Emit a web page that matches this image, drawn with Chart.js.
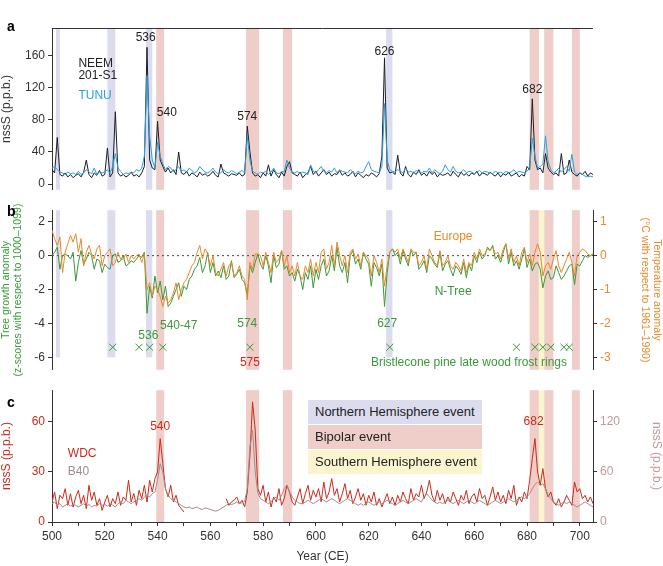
<!DOCTYPE html>
<html><head><meta charset="utf-8">
<script src="https://cdn.jsdelivr.net/npm/chart.js@4"></script>
<style>
body{margin:0;background:#fff;font-family:"Liberation Sans",Arial,sans-serif}
#wrap{position:relative;width:663px;height:566px}
canvas{position:absolute;left:0}
.lg{position:absolute;left:308px;width:174px;height:24px;font-size:13px;line-height:24px;padding-left:7px;box-sizing:border-box;color:#222}
.pl{position:absolute;left:7px;font-weight:bold;font-size:14px}
</style></head><body>
<div id="wrap">
<canvas id="ca" width="663" height="200" style="top:0"></canvas>
<canvas id="cb" width="663" height="180" style="top:200px"></canvas>
<canvas id="cc" width="663" height="186" style="top:380px"></canvas>
<div class="lg" style="top:400px;background:#dcdcef">Northern Hemisphere event</div>
<div class="lg" style="top:425px;background:#efcdc8">Bipolar event</div>
<div class="lg" style="top:450px;background:#faf5cf">Southern Hemisphere event</div>
<div class="pl" style="top:18px">a</div>
<div class="pl" style="top:203px">b</div>
<div class="pl" style="top:394px">c</div>
</div>
<script>
const startYear = 500;
const neem = [18,14,58,12,10,14,9,12,8,11, 13,9,15,30,12,8,14,11,17,10, 12,45,9,14,90,14,10,12,9,11, 15,10,12,9,14,22,170,30,20,18,
  78,30,22,15,20,14,18,12,40,14, 12,16,10,14,12,9,15,11,13,10, 12,16,11,9,25,14,12,10,13,12, 11,14,10,12,72,40,14,10,12,8,
  14,10,24,10,18,12,8,15,10,22, 28,14,12,10,15,8,12,14,22,12, 16,10,14,18,12,15,10,13,12,17, 11,14,10,12,16,9,14,11,8,12,
  10,14,12,9,13,35,157,20,14,15, 12,36,14,10,22,12,9,15,12,18, 11,14,10,16,12,15,9,13,11,12, 14,10,16,12,9,15,11,13,10,14,
  12,16,10,14,13,11,15,12,10,14, 9,13,11,15,10,12,14,9,12,10, 22,18,106,30,18,20,14,38,20,15, 12,14,10,38,12,14,30,15,12,10, 14,12,16,10,14,12];
const tunu = [20,22,18,15,14,12,15,13,14,12, 16,12,14,18,15,13,20,12,15,14, 15,18,14,22,38,20,16,12,14,13, 15,14,18,16,20,35,135,60,30,20,
  52,35,25,18,22,20,16,18,22,16, 18,15,20,17,14,16,22,18,15,14, 16,20,15,13,14,18,15,14,17,15, 13,15,17,14,60,30,16,14,12,15,
  14,16,12,15,20,14,13,16,15,30, 20,15,14,16,13,15,14,12,24,16, 14,18,22,16,14,17,15,20,14,18, 16,15,14,18,15,13,16,14,15,22,
  28,18,16,15,14,22,100,30,18,16, 15,18,16,14,20,15,16,14,17,15, 14,16,15,20,14,18,15,13,16,24, 18,15,22,16,14,15,18,14,16,15,
  13,15,17,14,16,15,14,13,16,14, 15,13,16,14,15,18,14,16,15,14, 16,20,57,35,20,22,25,60,28,18, 14,16,20,15,18,22,16,37,15,12, 14,12,10,9,10,9];
const nTree = [0,0.2,0.5,-0.8,0,0.1,0,-0.2,0.2,-1.5, -0.4,0.3,-0.5,-0.2,0.2,0,-0.8,-0.2,-0.3,-1.0, -0.5,-0.7,-0.8,0,0.1,-0.4,-0.3,0,-0.6,-0.5,
  -0.3,-0.4,-0.2,0,-0.1,0.2,-3.4,-1.8,-2.5,-1.2, -2.2,-1.5,-2.6,-1.8,-3.0,-2.8,-2.4,-2.0,-1.6,-2.4, -1.8,-2.0,-1.4,-1.2,-0.8,-0.6,-0.1,-1.0,-0.6,0.2,
  -1.0,-0.4,-1.2,-0.9,-1.3,-0.6,-1.4,-1.2,-0.3,-1.3, -1.1,-0.8,-1.4,-1.6,-2.3,-0.6,-1.0,-0.4,0.1,-0.5, -0.8,0,-0.6,-1.6,0,-0.7,-0.5,0.3,-0.8,-0.6,
  -1.2,-1.0,-1.5,-0.8,-1.2,-2.0,-1.0,-1.4,-0.6,-1.9, -0.8,-1.4,-0.6,-0.2,-1.2,-0.9,0,-0.9,0.5,-0.6, -1.0,-0.4,-1.6,0,0.3,-0.5,-0.2,-0.8,0.2,-0.2,
  -0.5,-1.8,-0.4,-0.7,-1.2,-0.5,-3.0,-1.0,0.2,0.4, 0,0.2,-0.5,0.3,-0.2,-0.6,0.3,0,0.2,-0.8, -0.6,-0.3,-1.0,0,-0.2,-0.5,-0.7,0.2,-0.9,-0.5,
  -0.3,-0.8,-1.2,-0.6,-0.8,-1.1,-0.4,-1.3,-0.5,-0.9, 0,-0.4,0.2,-0.2,0,0.5,0.3,0.6,-0.2,0, -0.4,0.2,0.7,-0.5,0.2,-0.6,-0.3,-0.8,-0.2,0.4,
  -0.7,-0.2,-0.9,-0.5,-0.4,-0.8,-1.9,-1.2,-0.9,-1.4, -1.3,-0.6,-1.0,-1.4,-1.2,-0.9,-0.6,-0.5,-1.7,-0.5, -0.6,-0.3,0,-0.1,0,0.1];
const europe = [0.75,0.5,0.3,0.55,-0.5,0.1,0.35,0.6,0.4,0.65, 0.1,0.5,-0.3,0.1,0.3,0.05,-0.1,0.2,0.3,-0.3, 0,0.1,0.2,-0.3,-0.2,0.1,-0.1,-0.1,0.05,-0.2,
  0,-0.1,0,0.05,-0.2,0.05,-1.0,-0.8,-1.2,-0.9, -1.0,-1.2,-1.5,-1.2,-1.4,-1.3,-1.1,-0.8,-1.3,-1.0, -0.8,-0.7,-0.5,-0.3,-0.2,0.1,0.3,-0.1,0.2,0.05,
  -0.3,0,-0.5,-0.6,-0.4,-0.2,-0.6,-0.3,-0.2,-0.6, -0.5,-0.3,-0.6,-0.7,-1.3,-0.2,-0.4,0.05,0.05,0, -0.3,0.1,-0.2,-0.5,0.1,-0.2,-0.1,0.15,-0.3,0,
  -0.5,-0.3,-0.6,-0.2,-0.6,-0.7,-0.3,-0.5,-0.1,-0.6, -0.2,-0.5,0.1,0.2,-0.4,-0.2,0.3,-0.3,0.4,0, -0.3,0,-0.5,0.1,0.2,-0.1,0.05,-0.3,0.1,0,
  -0.1,-0.6,0,-0.2,-0.5,-0.1,-0.9,-0.3,0.1,0.2, 0.1,0.2,-0.1,0.2,0,-0.2,0.2,0.1,0.1,-0.3, -0.2,0,-0.4,0.2,0,-0.2,-0.3,0.15,-0.3,-0.2,
  0,-0.3,-0.4,-0.2,-0.3,-0.45,-0.1,-0.5,-0.2,-0.3, 0.1,-0.1,0.2,0,0.05,0.2,0.15,0.25,0.05,0.1, -0.1,0.2,0.35,-0.1,0.2,-0.2,0,-0.3,0.1,0.25,
  -0.2,0.05,-0.3,0.1,0.35,0.1,-0.6,-0.3,-0.2,-0.4, -0.1,0.15,-0.3,-0.5,-0.3,-0.1,0.1,-0.2,-0.6,0, 0.1,0.2,0.15,0.05,0,0.05];
const wdc = [12,18,8,16,14,20,10,17,9,15, 19,11,16,8,22,13,18,10,14,7, 12,16,9,14,11,18,10,15,13,25, 12,17,10,19,14,22,12,25,18,26,
  30,50,35,20,15,22,12,16,10,8, 6,null,null,null,null,null,null,null,null,null, null,null,null,null,null,null,14,10,12,13,
  15,11,13,9,18,40,72,55,20,16, 22,12,18,9,15,12,20,10,14,22, 18,12,10,15,20,11,17,22,13,19, 15,20,12,24,14,18,26,16,20,12,
  17,23,14,19,11,15,20,13,17,10, 16,12,18,10,14,9,13,17,11,15, 10,16,12,18,14,11,20,13,17,15, 22,14,18,25,16,12,19,13,17,11,
  15,12,18,14,10,16,13,19,11,15, 17,12,20,14,16,10,15,21,13,18, 12,16,11,19,14,22,10,15,12,18, 14,25,38,50,30,22,32,20,15,18,
  12,10,14,9,12,16,13,10,24,18, 20,14,16,12,15,11];
const b40 = [22,24,20,22,18,20,22,19,21,20, 18,20,22,19,21,18,20,19,22,20, 21,19,22,20,18,22,24,22,26,24, 22,24,26,28,26,30,32,30,34,36,
  50,70,60,40,32,28,26,24,22,20, 18,17,18,16,17,18,16,15,17,16, 15,14,13,14,16,18,20,22,21,22, 24,22,23,25,40,90,110,60,35,28,
  26,24,22,24,28,30,26,32,40,44, 36,30,26,24,22,22,24,26,24,22, 24,26,28,26,24,26,28,26,24,22, 24,26,28,26,24,22,20,22,20,22,
  24,22,20,22,24,22,24,26,24,22, 20,22,24,26,24,22,24,26,28,26, 24,30,34,30,26,24,22,24,22,24, 26,24,22,24,26,24,22,24,26,24,
  22,24,26,24,22,20,22,24,26,24, 22,24,26,28,26,24,26,28,30,28, 30,34,40,45,48,44,46,40,32,28, 24,22,20,22,24,22,24,22,20,18, 20,22,24,22,20,18];
const yearTicks = [500,510,520,530,540,550,560,570,580,590,600,610,620,630,640,650,660,670,680,690,700];
const frostYears = [523,533,537,542,575,628,676,683,686,689,694,696];
const nhBands = [[501.5,503],[521,524],[535.6,538],[626.6,629]];
const bipolarBands = [[539.5,542.5],[573.5,578.5],[587.5,591],[681,684.5],[686.5,690],[697,700]];
const shBands = [[684.5,686.5]];

const pts = arr => arr.map((v, i) => ({x: startYear + i, y: v}));
Chart.defaults.font = {family: '"Liberation Sans", Arial, sans-serif', size: 12};
Chart.defaults.animation = false;

const bandPlugin = {
  id: 'bands',
  beforeDatasetsDraw(chart, args, opts) {
    const {ctx, chartArea: a, scales: {x}} = chart;
    ctx.save();
    (opts.sets || []).forEach(s => {
      ctx.fillStyle = s.color;
      const bottom = s.bottom != null ? chart.scales.y.getPixelForValue(s.bottom) : a.bottom;
      s.bands.forEach(([x0, x1]) => {
        const p0 = x.getPixelForValue(x0), p1 = x.getPixelForValue(x1);
        ctx.fillRect(p0, a.top, p1 - p0, bottom - a.top);
      });
    });
    if (opts.zeroLine) {
      const y0 = chart.scales.y.getPixelForValue(0);
      ctx.strokeStyle = '#444'; ctx.setLineDash([2, 3]); ctx.lineWidth = 1;
      ctx.beginPath(); ctx.moveTo(a.left, y0); ctx.lineTo(a.right, y0); ctx.stroke();
    }
    ctx.restore();
  },
  afterDraw(chart, args, opts) {
    const {ctx, chartArea: a, scales} = chart;
    ctx.save();
    if (opts.topBorder) {
      ctx.strokeStyle = '#333'; ctx.lineWidth = 1;
      ctx.beginPath(); ctx.moveTo(a.left, a.top + 0.5); ctx.lineTo(a.right, a.top + 0.5); ctx.stroke();
    }
    ctx.font = '12px "Liberation Sans", Arial, sans-serif';
    ctx.textBaseline = 'middle';
    (opts.labels || []).forEach(l => {
      ctx.fillStyle = l.color; ctx.textAlign = l.align || 'center';
      ctx.fillText(l.text, scales.x.getPixelForValue(l.x), scales[l.axis || 'y'].getPixelForValue(l.y));
    });
    ctx.restore();
  }
};

const xScale = show => ({
  type: 'linear', min: 500, max: 705, display: show,
  grid: {display: show, drawOnChartArea: false, tickLength: 4, color: '#333'},
  border: {color: '#333'},
  afterBuildTicks: s => { s.ticks = yearTicks.map(v => ({value: v})); },
  ticks: {color: '#333', autoSkip: false, maxRotation: 0,
    callback: v => v % 20 === 0 ? v : ''},
  title: {display: show, text: 'Year (CE)', color: '#333', font: {size: 12}, padding: 2},
  afterFit: s => { if (show) s.height = 44; }
});
const yAxis = (pos, min, max, ticks, color, title, titleColor, titleSize) => ({
  type: 'linear', position: pos, min, max,
  grid: {drawOnChartArea: false, tickLength: 4, color: '#333'},
  border: {color: '#333'},
  ticks: {color, padding: 3},
  afterBuildTicks: s => { s.ticks = ticks.map(v => ({value: v})); },
  title: {display: !!title, text: title, color: titleColor || color, font: {size: titleSize || 12, lineHeight: 1.15}, padding: 0},
  afterFit: s => { s.width = pos === 'left' ? 52 : 70; }
});
const line = (data, color, axis, width) => ({data: pts(data), borderColor: color, borderWidth: width || 1,
  pointRadius: 0, yAxisID: axis || 'y', spanGaps: false, tension: 0});
const baseOpts = {responsive: false, plugins: {legend: {display: false}, tooltip: {enabled: false}}};

new Chart(document.getElementById('ca'), {
  type: 'line',
  data: {datasets: [line(tunu, '#2aa0d8'), line(neem, '#1c1c2c')]},
  options: {...baseOpts, layout: {padding: {top: 28, right: 70}},
    scales: {x: xScale(false), y: yAxis('left', -7, 194, [0, 40, 80, 120, 160], '#333', 'nssS (p.p.b.)')},
    plugins: {...baseOpts.plugins, bands: {topBorder: true,
      sets: [{color: '#dcdcef', bands: nhBands}, {color: '#efcdc8', bands: bipolarBands}],
      labels: [
        {text: '536', x: 535.5, y: 182, color: '#222'}, {text: '540', x: 543.5, y: 89, color: '#222'},
        {text: '574', x: 574, y: 84, color: '#222'}, {text: '626', x: 626, y: 165, color: '#222'},
        {text: '682', x: 682, y: 117, color: '#222'},
        {text: 'NEEM', x: 510, y: 150, color: '#222', align: 'left'}, {text: '201-S1', x: 510, y: 135, color: '#222', align: 'left'},
        {text: 'TUNU', x: 510, y: 110, color: '#2aa0d8', align: 'left'}]}}},
  plugins: [bandPlugin]
});

new Chart(document.getElementById('cb'), {
  type: 'line',
  data: {datasets: [
    line(europe, '#e8892b', 'y2'), line(nTree, '#3a9a3a'),
    {type: 'scatter', data: frostYears.map(y => ({x: y, y: -5.4})), pointStyle: 'cross', rotation: 45,
      pointRadius: 5, borderColor: '#3a9a3a', borderWidth: 1, yAxisID: 'y'}]},
  options: {...baseOpts,
    scales: {x: xScale(false),
      y: yAxis('left', -6.73, 2.68, [-6, -4, -2, 0, 2], '#333', ['Tree growth anomaly', '(z-scores with respect to 1000–1099)'], '#3a9a3a', 10.5),
      y2: yAxis('right', -3.365, 1.34, [-3, -2, -1, 0, 1], '#e8892b', ['Temperature anomaly', '(°C with respect to 1961–1990)'], '#e8892b', 10.5)},
    plugins: {...baseOpts.plugins, bands: {zeroLine: true,
      sets: [{color: '#dcdcef', bands: nhBands, bottom: -6}, {color: '#efcdc8', bands: bipolarBands}, {color: '#faf5cf', bands: shBands}],
      labels: [
        {text: 'Europe', x: 652, y: 0.55, color: '#e8892b', axis: 'y2'}, {text: 'N-Tree', x: 652, y: -2.1, color: '#3a9a3a'},
        {text: '536', x: 536.5, y: -4.7, color: '#3a9a3a'}, {text: '540-47', x: 548, y: -4.1, color: '#3a9a3a'},
        {text: '574', x: 574, y: -4.0, color: '#3a9a3a'}, {text: '627', x: 627, y: -4.0, color: '#3a9a3a'},
        {text: 'Bristlecone pine late wood frost rings', x: 658, y: -6.3, color: '#3a9a3a'},
        {text: '575', x: 575, y: -6.3, color: '#cc2a1a'}]}}},
  plugins: [bandPlugin]
});

new Chart(document.getElementById('cc'), {
  type: 'line',
  data: {datasets: [line(b40, '#a08c8c', 'y2'), line(wdc, '#cc2a1a')]},
  options: {...baseOpts,
    scales: {x: xScale(true),
      y: yAxis('left', 0, 79, [0, 30, 60], '#cc2a1a', 'nssS (p.p.b.)'),
      y2: yAxis('right', 0, 158, [0, 60, 120], '#c09a9a', 'nssS (p.p.b.)')},
    plugins: {...baseOpts.plugins, bands: {
      sets: [{color: '#efcdc8', bands: bipolarBands}, {color: '#faf5cf', bands: shBands}],
      labels: [
        {text: '540', x: 541, y: 57, color: '#cc2a1a'}, {text: '682', x: 682.5, y: 60, color: '#cc2a1a'},
        {text: 'WDC', x: 506, y: 41, color: '#cc2a1a', align: 'left'}, {text: 'B40', x: 506, y: 30, color: '#a08c8c', align: 'left'}]}}},
  plugins: [bandPlugin]
});
</script>
</body></html>
